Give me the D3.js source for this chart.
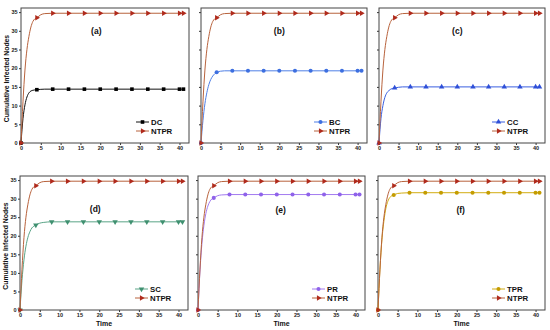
<!DOCTYPE html>
<html lang="en">
<head>
<meta charset="UTF-8">
<title>Cumulative Infected Nodes</title>
<script src="https://cdn.jsdelivr.net/npm/d3@7/dist/d3.min.js"></script>
<style>
  body { margin: 0; background: #fff; }
  text { font-family: "Liberation Sans", Arial, sans-serif; }
</style>
</head>
<body>
<svg id="mainsvg" width="550" height="330"></svg>
<script>
// time steps of the curves, and the steps that carry a marker
const times = [0, 0.5, 1, 1.5, 2, 2.5, 3, 3.5, 4, 5, 6, 8, 12, 16, 20, 24, 28, 32, 36, 40, 41];
const markerTimes = [0, 4, 8, 12, 16, 20, 24, 28, 32, 36, 40, 41];

const ntpr = [0, 11, 19.5, 25, 28.5, 31, 32.5, 33.2, 33.5, 34.3, 34.6, 34.7, 34.7, 34.7, 34.7, 34.7, 34.7, 34.7, 34.7, 34.7, 34.7];
const dc   = [0, 6.5, 10.2, 12.3, 13.4, 13.9, 14.1, 14.2, 14.25, 14.35, 14.4, 14.4, 14.4, 14.4, 14.4, 14.4, 14.4, 14.4, 14.4, 14.4, 14.4];
const bc   = [0, 6, 10.5, 13.5, 15.6, 17, 17.9, 18.5, 18.9, 19.2, 19.3, 19.3, 19.3, 19.3, 19.3, 19.3, 19.3, 19.3, 19.3, 19.3, 19.3];
const cc   = [0, 6.5, 10, 12.2, 13.4, 14.0, 14.4, 14.6, 14.7, 14.9, 15.0, 15.0, 15.0, 15.0, 15.0, 15.0, 15.0, 15.0, 15.0, 15.0, 15.0];
const sc   = [0, 8, 13.5, 17.2, 19.6, 21.1, 22.1, 22.6, 22.9, 23.4, 23.6, 23.75, 23.75, 23.75, 23.75, 23.75, 23.75, 23.75, 23.75, 23.75, 23.75];
const pr   = [0, 10.5, 18, 22.8, 26, 28, 29.2, 29.9, 30.2, 30.8, 31.0, 31.1, 31.1, 31.1, 31.1, 31.1, 31.1, 31.1, 31.1, 31.1, 31.1];
const tpr  = [0, 11, 19, 24, 27.4, 29.3, 30.3, 30.8, 31.0, 31.4, 31.5, 31.6, 31.6, 31.6, 31.6, 31.6, 31.6, 31.6, 31.6, 31.6, 31.6];

const xTicks = [0, 5, 10, 15, 20, 25, 30, 35, 40];
const yTicks = [0, 5, 10, 15, 20, 25, 30, 35];

const panelLabels = ["(a)", "(b)", "(c)", "(d)", "(e)", "(f)"];
const methodNames = ["DC", "BC", "CC", "SC", "PR", "TPR"];
const methodValues = [dc, bc, cc, sc, pr, tpr];
const methodColors = ["#111111", "#4f7fe6", "#3a5fe0", "#5aa487", "#a27af0", "#d2ad12"];
const markerColors = ["#000000", "#3d6fe0", "#2f50d8", "#3f9070", "#8f62ea", "#c49c00"];
const methodSymbols = [d3.symbolSquare, d3.symbolCircle, d3.symbolTriangle, d3.symbolTriangle, d3.symbolCircle, d3.symbolCircle];
const symbolRotate = [0, 0, 0, 180, 0, 0];

const ntprColor = "#b8623c";
const ntprMarker = "#b02a1c";

// panel boxes (left, top, right, bottom)
const panels = [
  {x0: 21, y0: 8, x1: 189, y1: 143},
  {x0: 201, y0: 8, x1: 367, y1: 143},
  {x0: 379, y0: 8, x1: 545, y1: 143},
  {x0: 20, y0: 176, x1: 188, y1: 310},
  {x0: 198, y0: 176, x1: 365, y1: 310},
  {x0: 378, y0: 176, x1: 545, y1: 310}
];
const labelPos = [[19, 30], [20, 30], [20, 30], [19, 27.3], [21, 27], [21, 27]];

const svg = d3.select("#mainsvg");

panels.forEach((p, i) => {
  const xScale = d3.scaleLinear().domain([0, 42.4]).range([p.x0, p.x1]);
  const yScale = d3.scaleLinear().domain([0, 36.1]).range([p.y1, p.y0]);
  const g = svg.append("g");

  const xAxis = d3.axisBottom(xScale).tickValues(xTicks).tickSize(2).tickPadding(1.5);
  const gx = g.append("g").attr("transform", `translate(0,${p.y1})`).call(xAxis);
  const yAxis = d3.axisLeft(yScale).tickValues(yTicks).tickSize(2).tickPadding(1.5);
  if (i !== 0 && i !== 3) yAxis.tickFormat("");
  const gy = g.append("g").attr("transform", `translate(${p.x0},0)`).call(yAxis);
  [gx, gy].forEach(a => {
    a.select(".domain").remove();
    a.selectAll(".tick line").attr("stroke", "#333");
    a.selectAll(".tick text").attr("font-size", "5.5px").attr("font-weight", "bold").attr("fill", "#222");
  });

  g.append("rect")
    .attr("x", p.x0).attr("y", p.y0)
    .attr("width", p.x1 - p.x0).attr("height", p.y1 - p.y0)
    .attr("fill", "none").attr("stroke", "#444").attr("stroke-width", 1);

  const line = d3.line().x((d, k) => xScale(times[k])).y(d => yScale(d)).curve(d3.curveMonotoneX);

  const series = [
    {name: methodNames[i], vals: methodValues[i], color: methodColors[i], mc: markerColors[i], sym: methodSymbols[i], rot: symbolRotate[i]},
    {name: "NTPR", vals: ntpr, color: ntprColor, mc: ntprMarker, sym: d3.symbolTriangle, rot: 90}
  ];

  series.forEach(s => {
    g.append("path").datum(s.vals)
      .attr("d", line).attr("fill", "none")
      .attr("stroke", s.color).attr("stroke-width", 1);
    const pts = times.map((t, k) => ({t, v: s.vals[k]})).filter(d => markerTimes.includes(d.t));
    g.selectAll(null).data(pts).enter().append("path")
      .attr("d", d3.symbol().type(s.sym).size(13))
      .attr("transform", d => `translate(${xScale(d.t)},${yScale(d.v)}) rotate(${s.rot})`)
      .attr("fill", s.mc);
  });

  // legend
  series.forEach((s, k) => {
    const ly = p.y1 - 21 + k * 9;
    const lx = p.x1 - 53;
    g.append("line").attr("x1", lx).attr("x2", lx + 13).attr("y1", ly).attr("y2", ly)
      .attr("stroke", s.color).attr("stroke-width", 1);
    g.append("path").attr("d", d3.symbol().type(s.sym).size(13))
      .attr("transform", `translate(${lx + 6.5},${ly}) rotate(${s.rot})`).attr("fill", s.mc);
    g.append("text").attr("x", lx + 15).attr("y", ly).attr("dy", "0.35em")
      .attr("font-size", "7.8px").attr("font-weight", "bold").attr("fill", "#111")
      .text(s.name);
  });

  g.append("text")
    .attr("x", xScale(labelPos[i][0])).attr("y", yScale(labelPos[i][1]))
    .attr("text-anchor", "middle").attr("dy", "0.35em")
    .attr("font-size", "8.5px").attr("font-weight", "bold").attr("fill", "#111")
    .text(panelLabels[i]);

  if (i === 0 || i === 3) {
    const cy = (p.y0 + p.y1) / 2 + 3;
    g.append("text")
      .attr("transform", `translate(${p.x0 - 12},${cy}) rotate(-90)`)
      .attr("text-anchor", "middle")
      .attr("font-size", "6.8px").attr("font-weight", "bold").attr("fill", "#111")
      .text("Cumulative Infected Nodes");
  }
  if (i >= 3) {
    g.append("text")
      .attr("x", (p.x0 + p.x1) / 2).attr("y", 326)
      .attr("text-anchor", "middle")
      .attr("font-size", "7px").attr("font-weight", "bold").attr("fill", "#111")
      .text("Time");
  }
});
</script>
</body>
</html>
